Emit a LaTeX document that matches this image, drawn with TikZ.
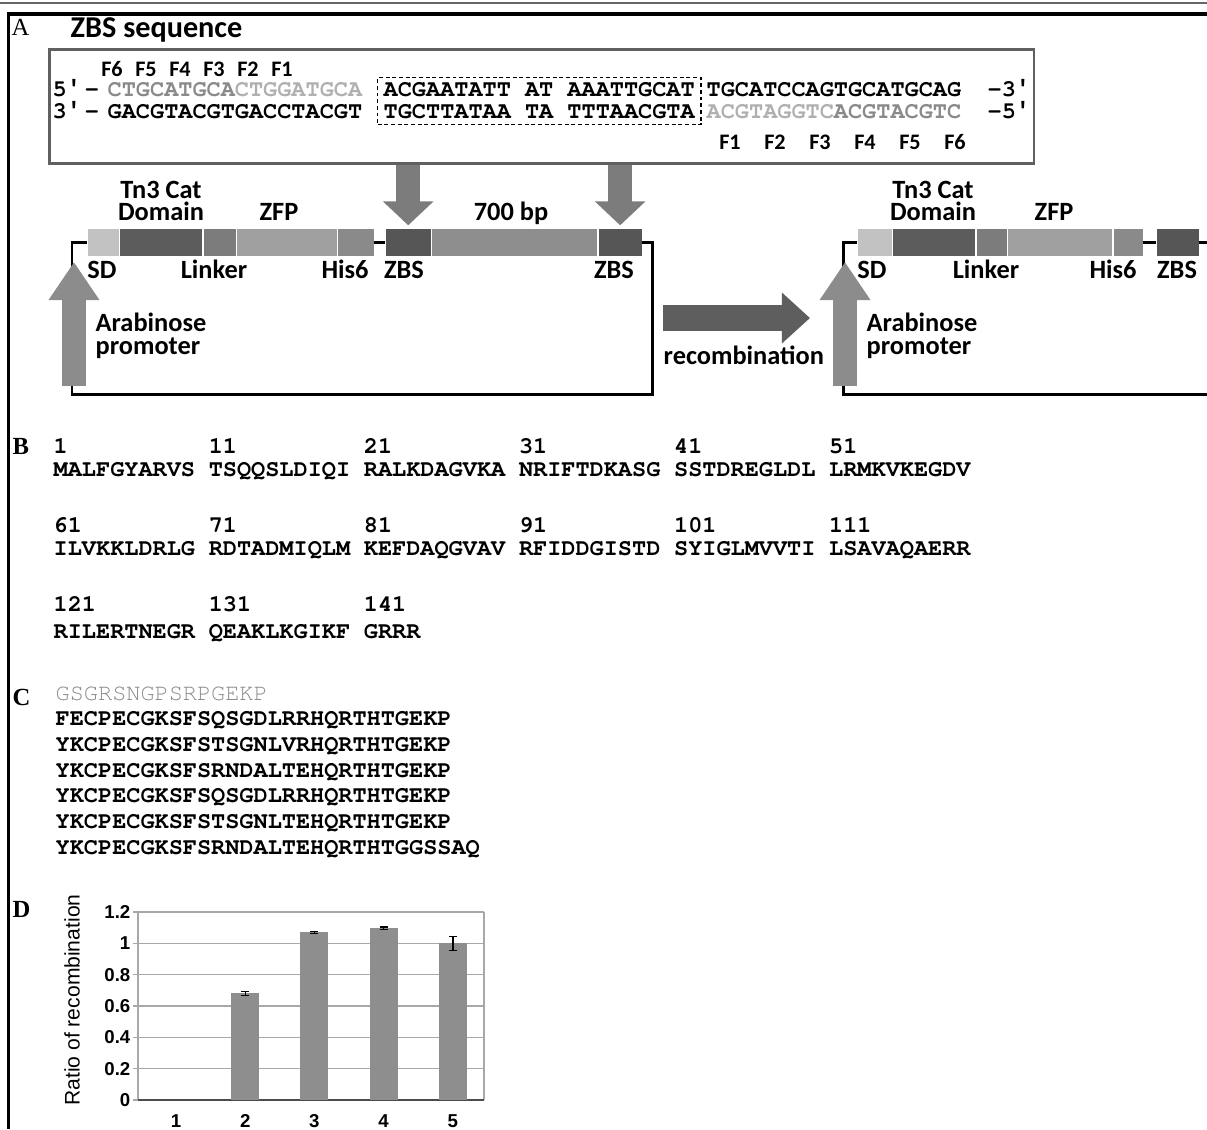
\documentclass[tikz,border=0pt]{standalone}
\usepackage{fontspec}
\setmainfont{Liberation Serif}
\newfontfamily\calfont{Carlito}
\newfontfamily\courfont{texgyrecursor}[Extension=.otf,UprightFont=*-regular,BoldFont=*-bold]
\newfontfamily\primefont{Liberation Mono}
\newfontfamily\arfont{Liberation Sans}
\usepackage{xcolor}
\usetikzlibrary{calc,positioning,arrows.meta}

\definecolor{sdgray}{HTML}{C2C2C2}
\definecolor{catgray}{HTML}{5C5C5C}
\definecolor{lnkgray}{HTML}{7C7C7C}
\definecolor{zfpgray}{HTML}{A0A0A0}
\definecolor{hisgray}{HTML}{8A8A8A}
\definecolor{zbsgray}{HTML}{565656}
\definecolor{spcgray}{HTML}{8E8E8E}
\definecolor{arrgray}{HTML}{7C7C7C}
\definecolor{promgray}{HTML}{8C8C8C}
\definecolor{recgray}{HTML}{5E5E5E}
\definecolor{seqA}{HTML}{8A8A8A}
\definecolor{seqB}{HTML}{B0B0B0}
\definecolor{bargray}{HTML}{8E8E8E}
\definecolor{gridgray}{HTML}{A8A8A8}
\definecolor{framegray}{HTML}{606060}

\newcommand{\lblsize}{\calfont\bfseries\fontsize{7.5}{9}\selectfont}
\newcommand{\fsize}{\calfont\bfseries\fontsize{6.3}{8}\selectfont}
\newcommand{\seqsize}{\courfont\bfseries\fontsize{6.7}{8}\selectfont}
\newcommand{\letsize}{\fontsize{7}{8}\selectfont}
\newcommand{\pr}{{\primefont\bfseries ′}}

\begin{document}
\begin{tikzpicture}[x=0.01cm,y=-0.01cm,
  lbl/.style={font=\lblsize, inner sep=0pt, anchor=base},
  flbl/.style={font=\fsize, inner sep=0pt, anchor=base},
  seq/.style={font=\seqsize, inner sep=0pt, anchor=base west},
  panel/.style={font=\letsize\bfseries, inner sep=0pt, anchor=base west},
  blk/.style={inner sep=0pt, minimum height=0.27cm, anchor=west},
  dnaline/.style={line width=0.85pt},
  downarr/.style={draw=arrgray, line width=6.8pt, -{Triangle[length=6.8pt,width=14pt]}},
  promarr/.style={draw=promgray, line width=6.8pt, -{Triangle[length=10.8pt,width=13.7pt]}},
  recarr/.style={draw=recgray, line width=7.4pt, -{Triangle[length=8pt,width=14pt]}},
  tick/.style={font=\arfont\bfseries\fontsize{5.3}{6}\selectfont, inner sep=0pt, anchor=east},
  xtick/.style={font=\arfont\bfseries\fontsize{5.3}{6}\selectfont, inner sep=0pt}]
\useasboundingbox (0,0) rectangle (1207,1129);

% outer frame
\draw[line width=0.3pt, black!60] (0,3) -- (1207,3);
\draw[line width=1.1pt] (8.5,1129) -- (8.5,14) -- (1207,14);

% ---- panel A: sequence
\node[panel, font=\letsize] (pA) at (11,35) {A};
\node[lbl, anchor=base west, font=\calfont\bfseries\fontsize{8.6}{10}\selectfont] (ttl) at (70,37) {ZBS sequence};
\node[draw=framegray, line width=0.8pt, inner sep=0pt, minimum width=9.84cm, minimum height=1.14cm, anchor=north west] (seqbox) at (48,48) {};
\node[draw, dash pattern=on 1.1pt off 0.8pt, line width=0.4pt, inner sep=0pt, minimum width=3.23cm, minimum height=0.47cm, anchor=north west] (core) at (377,77) {};

\foreach \f [count=\k from 0] in {F6,F5,F4,F3,F2,F1}
  \node[flbl] (ft\f) at (112+34*\k,76) {\f};
\foreach \f [count=\k from 0] in {F1,F2,F3,F4,F5,F6}
  \node[flbl] (fb\f) at (730+45*\k,149) {\f};

\node[seq] (p5) at (52,96) {5\pr\,-};
\node[seq] (p3) at (52,118) {3\pr\,-};
\node[seq] (topL) at (107,96) {\textcolor{seqA}{CTGCATGCA}\textcolor{seqB}{CTGGATGCA}};
\node[seq] (botL) at (107,118) {GACGTACGTGACCTACGT};
\node[seq] (topC) at (383,96) {ACGAATATT AT AAATTGCAT};
\node[seq] (botC) at (383,118) {TGCTTATAA TA TTTAACGTA};
\node[seq] (topR) at (706,96) {TGCATCCAGTGCATGCAG};
\node[seq] (botR) at (706,118) {\textcolor{seqB}{ACGTAGGTC}\textcolor{seqA}{ACGTACGTC}};
\node[seq] (e3) at (987,96) {-3\pr};
\node[seq] (e5) at (987,118) {-5\pr};

% ---- panel A: left construct
\node[blk, fill=sdgray, minimum width=0.31cm] (sdL) at (87,242.5) {};
\node[blk, fill=catgray, minimum width=0.82cm, right=0pt of sdL] (catL) {};
\node[blk, fill=lnkgray, minimum width=0.32cm, right=0pt of catL] (lnkL) {};
\node[blk, fill=zfpgray, minimum width=1.00cm, right=0pt of lnkL] (zfpL) {};
\node[blk, fill=hisgray, minimum width=0.35cm, right=0pt of zfpL] (hisL) {};
\node[blk, fill=zbsgray, minimum width=0.45cm] (zbsLa) at (385,242.5) {};
\node[blk, fill=spcgray, minimum width=1.65cm, right=0pt of zbsLa] (spcL) {};
\node[blk, fill=zbsgray, minimum width=0.43cm, right=0pt of spcL] (zbsLb) {};

\draw[dnaline] (sdL.west) -| (72,394) -| (652,242.5) -- (zbsLb.east);
\draw[dnaline] (hisL.east) -- (zbsLa.west);

\draw[downarr] (seqbox.south -| zbsLa) -- ($(zbsLa.north)+(0,-3)$);
\draw[downarr] (seqbox.south -| zbsLb) -- ($(zbsLb.north)+(0,-3)$);

\coordinate (pLa) at (74,386);
\coordinate (pLb) at (74,262);
\draw[promarr] (pLa) -- (pLb);

\node[lbl] (tnL) at (161,198) {Tn3 Cat};
\node[lbl] (domL) at (161,220) {Domain};
\node[lbl] (zfpLt) at (279,220) {ZFP};
\node[lbl] (bpL) at (511,220) {700 bp};
\node[lbl] (sdLt) at (102,278) {SD};
\node[lbl] (lnkLt) at (214,278) {Linker};
\node[lbl] (hisLt) at (345,278) {His6};
\node[lbl] (zbsLat) at (404,278) {ZBS};
\node[lbl] (zbsLbt) at (614,278) {ZBS};
\node[lbl, anchor=base west] (araL) at (95,331) {Arabinose};
\node[lbl, anchor=base west] (proL) at (95,354) {promoter};

% recombination
\coordinate (rA) at (663,318);
\coordinate (rB) at (810,318);
\draw[recarr] (rA) -- (rB);
\node[lbl, anchor=base west] (rec) at (663,364) {recombination};

% ---- panel A: right construct
\node[blk, fill=sdgray, minimum width=0.34cm] (sdR) at (857,242.5) {};
\node[blk, fill=catgray, minimum width=0.82cm, right=0pt of sdR] (catR) {};
\node[blk, fill=lnkgray, minimum width=0.30cm, right=0pt of catR] (lnkR) {};
\node[blk, fill=zfpgray, minimum width=1.04cm, right=0pt of lnkR] (zfpR) {};
\node[blk, fill=hisgray, minimum width=0.29cm, right=0pt of zfpR] (hisR) {};
\node[blk, fill=zbsgray, minimum width=0.42cm] (zbsR) at (1156,242.5) {};

\draw[dnaline] (sdR.west) -| (843,394) -- (1207,394);
\draw[dnaline] (hisR.east) -- (zbsR.west);
\draw[dnaline] (zbsR.east) -- (1207,242.5);

\coordinate (pRa) at (845,386);
\coordinate (pRb) at (845,262);
\draw[promarr] (pRa) -- (pRb);

\node[lbl] (tnR) at (933,198) {Tn3 Cat};
\node[lbl] (domR) at (933,220) {Domain};
\node[lbl] (zfpRt) at (1054,220) {ZFP};
\node[lbl] (sdRt) at (872,278) {SD};
\node[lbl] (lnkRt) at (986,278) {Linker};
\node[lbl] (hisRt) at (1113,278) {His6};
\node[lbl] (zbsRt) at (1177,278) {ZBS};
\node[lbl, anchor=base west] (araR) at (866,331) {Arabinose};
\node[lbl, anchor=base west] (proR) at (866,354) {promoter};

% ---- panel B
\node[panel] (pB) at (12,454) {B};
\foreach \n/\s [count=\k from 0] in {1/MALFGYARVS,11/TSQQSLDIQI,21/RALKDAGVKA,31/NRIFTDKASG,41/SSTDREGLDL,51/LRMKVKEGDV}{
  \node[seq] (bn\n) at (53+155.1*\k,453) {\n};
  \node[seq] (bs\n) at (53+155.1*\k,476) {\s};
}
\foreach \n/\s [count=\k from 0] in {61/ILVKKLDRLG,71/RDTADMIQLM,81/KEFDAQGVAV,91/RFIDDGISTD,101/SYIGLMVVTI,111/LSAVAQAERR}{
  \node[seq] (bn\n) at (53+155.1*\k,532) {\n};
  \node[seq] (bs\n) at (53+155.1*\k,555) {\s};
}
\foreach \n/\s [count=\k from 0] in {121/RILERTNEGR,131/QEAKLKGIKF,141/GRRR}{
  \node[seq] (bn\n) at (53+155.1*\k,611) {\n};
  \node[seq] (bs\n) at (53+155.1*\k,638) {\s};
}

% ---- panel C
\node[panel] (pC) at (12,705) {C};
\node[seq, font=\courfont\fontsize{6.7}{8}\selectfont, text=seqA] (c0) at (55,700) {GSGRSNGPSRPGEKP};
\foreach \s [count=\k] in {FECPECGKSFSQSGDLRRHQRTHTGEKP,YKCPECGKSFSTSGNLVRHQRTHTGEKP,YKCPECGKSFSRNDALTEHQRTHTGEKP,YKCPECGKSFSQSGDLRRHQRTHTGEKP,YKCPECGKSFSTSGNLTEHQRTHTGEKP,YKCPECGKSFSRNDALTEHQRTHTGGSSAQ}
  \node[seq] (c\k) at (55,700+25.7*\k) {\s};

% ---- panel D: bar chart
\node[panel] (pD) at (12,917) {D};
\foreach \v/\t [count=\i] in {0/0,0.2/0.2,0.4/0.4,0.6/0.6,0.8/0.8,1/1,1.2/1.2}{
  \draw[gridgray, line width=0.35pt] (133,{1100-156.7*\v}) -- (484,{1100-156.7*\v});
  \node[tick] (yt\i) at (131,{1100-156.7*\v}) {\t};
}
\draw[gridgray, line width=0.35pt] (138,912) -- (138,1100);
\draw[gridgray, line width=0.35pt] (484,912) -- (484,1100);
\draw[black!70, line width=0.5pt] (138,1100) -- (484,1100);
\foreach \i/\v/\e in {2/0.68/0.012,3/1.07/0.006,4/1.095/0.008,5/1.0/0.045}{
  \fill[bargray] ({176+69.2*(\i-1)-14},1100) rectangle ({176+69.2*(\i-1)+14},{1100-156.7*\v});
  \draw[line width=0.4pt] ({176+69.2*(\i-1)},{1100-156.7*(\v-\e)}) -- ({176+69.2*(\i-1)},{1100-156.7*(\v+\e)});
  \draw[line width=0.4pt] ({176+69.2*(\i-1)-4},{1100-156.7*(\v+\e)}) -- ({176+69.2*(\i-1)+4},{1100-156.7*(\v+\e)});
  \draw[line width=0.4pt] ({176+69.2*(\i-1)-4},{1100-156.7*(\v-\e)}) -- ({176+69.2*(\i-1)+4},{1100-156.7*(\v-\e)});
}
\foreach \i in {1,...,5}
  \node[xtick] (xt\i) at ({176+69.2*(\i-1)},1121) {\i};
\node[rotate=90, inner sep=0pt, font=\arfont\fontsize{6}{7}\selectfont] (ytitle) at (72,1000) {Ratio of recombination};
\end{tikzpicture}
\end{document}
